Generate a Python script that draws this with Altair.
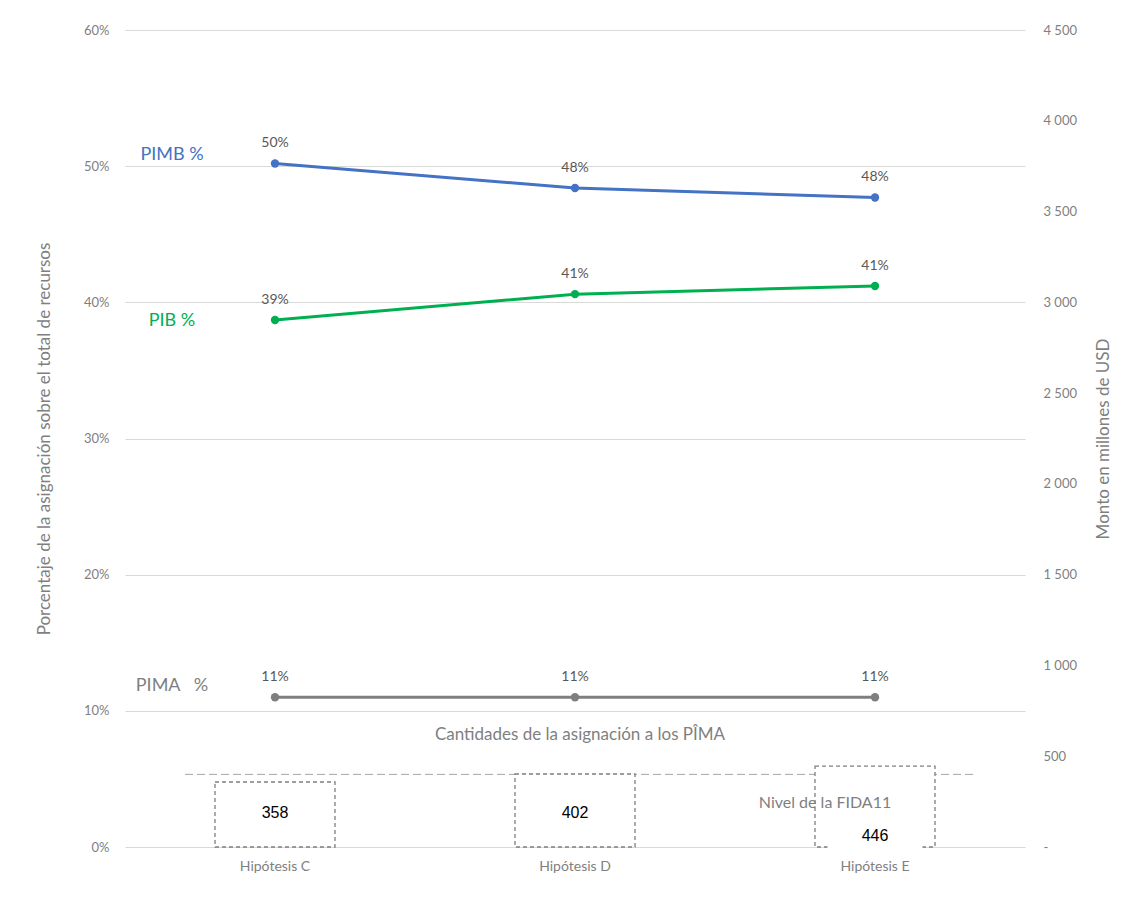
import altair as alt
import pandas as pd

hipotesis = ["Hipótesis C", "Hipótesis D", "Hipótesis E"]
series = ["PIMB %", "PIB %", "PIMA %"]
pimb = [0.502, 0.484, 0.477]
pib = [0.387, 0.406, 0.412]
pima = [0.110, 0.110, 0.110]
montos = [358, 402, 446]
monto_label_y = [187, 187, 61]
fida11 = 400
serie_labels = ["PIMB %", "PIB %", "PIMA\u00a0\u00a0\u00a0%"]
serie_label_y = [0.508, 0.386, 0.118]
line_colors = ["#4472C4", "#00B050", "#7F7F7F"]
label_colors = ["#0070C0", "#00B050", "#7F7F7F"]

rows = []
for s, vals in zip(series, [pimb, pib, pima]):
    for h, v in zip(hipotesis, vals):
        rows.append({"hip": h, "serie": s, "valor": v, "lab": f"{round(v*100):.0f}%"})
df_lines = pd.DataFrame(rows)
df_bars = pd.DataFrame({"hip": hipotesis, "monto": montos, "ly": monto_label_y})
df_slab = pd.DataFrame({"hip": [hipotesis[0]] * 3, "serie": series, "txt": serie_labels, "y": serie_label_y})

FONT = "Lato"
GRAY = "#595959"
LGRAY = "#7F7F7F"

xenc = alt.X("hip:N", sort=hipotesis,
             scale=alt.Scale(paddingInner=0.6, paddingOuter=0.3),
             axis=alt.Axis(title=None, labelAngle=0, domain=False, ticks=False, grid=False,
                           labelPadding=12, labelFontSize=14, labelColor=LGRAY, labelFont=FONT))

left_axis = alt.Axis(title="Porcentaje de la asignación sobre el total de recursos",
                     format=".0%", values=[0, 0.1, 0.2, 0.3, 0.4, 0.5, 0.6],
                     domain=False, ticks=False, grid=True, gridColor="#D9D9D9", gridWidth=1,
                     labelPadding=16, labelFontSize=13, labelColor=LGRAY, labelFont=FONT,
                     titleFontSize=17, titleColor=LGRAY, titleFont=FONT, titleFontWeight="normal",
                     titlePadding=30)
lscale = alt.Scale(domain=[0, 0.6], nice=False)
right_axis = alt.Axis(title="Monto en millones de USD", orient="right", titleAngle=270,
                      values=list(range(0, 4501, 500)), grid=False, domain=False, ticks=False,
                      labelExpr="datum.value == 0 ? '-' : replace(format(datum.value, ','), ',', ' ')",
                      labelPadding=18, labelFontSize=13, labelColor=LGRAY, labelFont=FONT,
                      titleFontSize=17, titleColor=LGRAY, titleFont=FONT, titleFontWeight="normal",
                      titlePadding=36)
rscale = alt.Scale(domain=[0, 4500], nice=False)

color = alt.Color("serie:N", scale=alt.Scale(domain=series, range=line_colors), legend=None)

lines = alt.Chart(df_lines).mark_line(strokeWidth=3).encode(
    x=xenc, y=alt.Y("valor:Q", scale=lscale, axis=left_axis), color=color, detail="serie:N")
points = alt.Chart(df_lines).mark_point(filled=True, size=70, opacity=1).encode(
    x=xenc, y=alt.Y("valor:Q", scale=lscale, axis=left_axis), color=color)
ptext = alt.Chart(df_lines).mark_text(dy=-20, fontSize=14, color=GRAY, font=FONT, baseline="middle").encode(
    x=xenc, y=alt.Y("valor:Q", scale=lscale, axis=left_axis), text="lab:N")
slabels = alt.Chart(df_slab).mark_text(dx=-103, fontSize=18, font=FONT, baseline="middle").encode(
    x=xenc, y=alt.Y("y:Q", scale=lscale, axis=left_axis), text="txt:N",
    color=alt.Color("serie:N", scale=alt.Scale(domain=series, range=label_colors), legend=None))
xtitle = alt.Chart(pd.DataFrame({"hip": [hipotesis[1]], "y": [0.0822],
                                 "t": ["Cantidades de la asignación a los PÎMA"]})).mark_text(
    dx=5, fontSize=17, color=LGRAY, font=FONT, baseline="middle").encode(
    x=xenc, y=alt.Y("y:Q", scale=lscale, axis=left_axis), text="t:N")

left = alt.layer(lines, points, ptext, slabels, xtitle)

bars = alt.Chart(df_bars).mark_bar(fill="white", stroke="#7F7F7F", strokeDash=[4, 3], strokeWidth=1.3).encode(
    x=xenc, y=alt.Y("monto:Q", scale=rscale, axis=right_axis))
mask = alt.Chart(pd.DataFrame({"hip": [hipotesis[2]], "y0": [-10], "y1": [140]})).mark_bar(
    fill="white", size=95).encode(
    x=xenc, y=alt.Y("y0:Q", scale=rscale, axis=right_axis), y2="y1:Q")
btext = alt.Chart(df_bars).mark_text(fontSize=16, color="black", font="Liberation Sans", baseline="middle").encode(
    x=xenc, y=alt.Y("ly:Q", scale=rscale, axis=right_axis), text="monto:Q")
rule = alt.Chart(pd.DataFrame({"v": [fida11]})).mark_rule(color="#A6A6A6", strokeDash=[8, 4], strokeWidth=1).encode(
    x=alt.value(60), x2=alt.value(850), y=alt.Y("v:Q", scale=rscale, axis=right_axis))
ftext = alt.Chart(pd.DataFrame({"hip": [hipotesis[2]], "y": [242], "t": ["Nivel de la FIDA11"]})).mark_text(
    dx=-50, fontSize=16, color=LGRAY, font=FONT, baseline="middle").encode(
    x=xenc, y=alt.Y("y:Q", scale=rscale, axis=right_axis), text="t:N")

right = alt.layer(rule, bars, mask, btext, ftext)

chart = alt.layer(right, left).resolve_scale(y="independent").properties(
    width=900, height=817,
    autosize=alt.AutoSizeParams(type="none"),
    padding={"left": 117, "top": 22, "right": 90, "bottom": 42},
).configure(background="white").configure_view(stroke=None)

chart.save("out.html", embed_options={"renderer": "svg", "actions": False})
